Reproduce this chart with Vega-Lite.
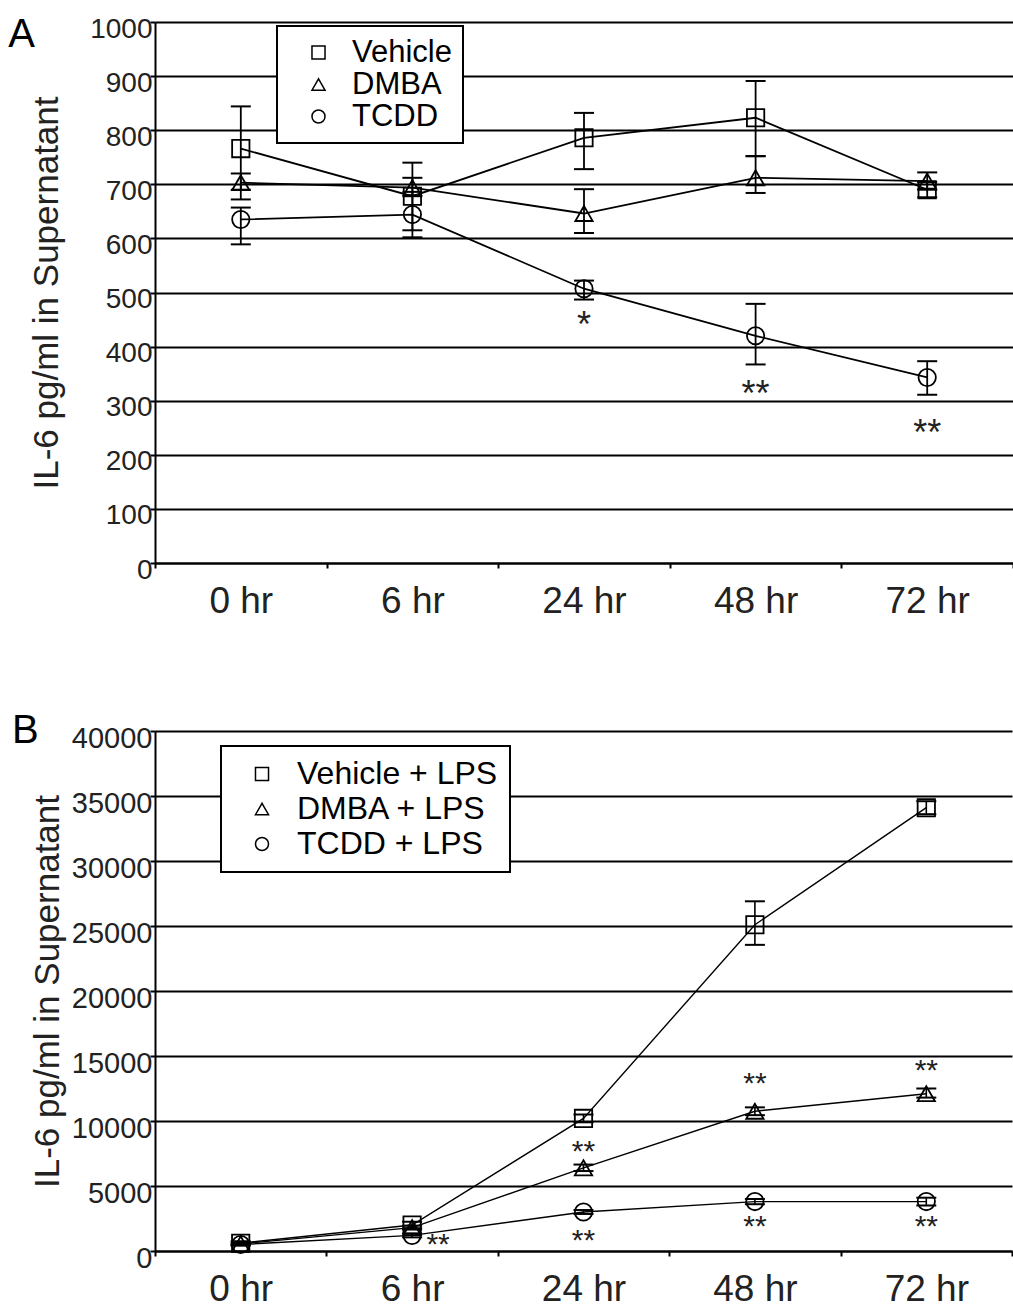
{
  "$schema": "https://vega.github.io/schema/vega-lite/v6.json",
  "background": "white",
  "padding": {"left": 8, "top": 15, "right": 0, "bottom": 0},
  "columns": 1,
  "align": "none",
  "spacing": 92,
  "resolve": {"scale": {"shape": "independent", "y": "independent", "x": "independent"}, "legend": {"shape": "independent"}},
  "datasets": {
    "a": [
      {"t": "0 hr", "s": "Vehicle", "v": 766, "lo": 690, "hi": 844},
      {"t": "6 hr", "s": "Vehicle", "v": 678, "lo": 615, "hi": 740},
      {"t": "24 hr", "s": "Vehicle", "v": 786, "lo": 728, "hi": 832},
      {"t": "48 hr", "s": "Vehicle", "v": 823, "lo": 752, "hi": 891},
      {"t": "72 hr", "s": "Vehicle", "v": 690, "lo": 676, "hi": 704},
      {"t": "0 hr", "s": "DMBA", "v": 703, "lo": 672, "hi": 720},
      {"t": "6 hr", "s": "DMBA", "v": 694, "lo": 678, "hi": 712},
      {"t": "24 hr", "s": "DMBA", "v": 646, "lo": 610, "hi": 691},
      {"t": "48 hr", "s": "DMBA", "v": 712, "lo": 684, "hi": 752},
      {"t": "72 hr", "s": "DMBA", "v": 706, "lo": 690, "hi": 722},
      {"t": "0 hr", "s": "TCDD", "v": 635, "lo": 589, "hi": 657},
      {"t": "6 hr", "s": "TCDD", "v": 644, "lo": 602, "hi": 686},
      {"t": "24 hr", "s": "TCDD", "v": 507, "lo": 487, "hi": 522},
      {"t": "48 hr", "s": "TCDD", "v": 420, "lo": 367, "hi": 479},
      {"t": "72 hr", "s": "TCDD", "v": 343, "lo": 311, "hi": 373}
    ],
    "a_sig": [
      {"t": "24 hr", "y": 454, "mark": "*"},
      {"t": "48 hr", "y": 327, "mark": "**"},
      {"t": "72 hr", "y": 256, "mark": "**"}
    ],
    "b": [
      {"t": "0 hr", "s": "Vehicle + LPS", "v": 600, "lo": 450, "hi": 750},
      {"t": "6 hr", "s": "Vehicle + LPS", "v": 2000, "lo": 1750, "hi": 2250},
      {"t": "24 hr", "s": "Vehicle + LPS", "v": 10200, "lo": 9900, "hi": 10500},
      {"t": "48 hr", "s": "Vehicle + LPS", "v": 25100, "lo": 23550, "hi": 26900},
      {"t": "72 hr", "s": "Vehicle + LPS", "v": 34100, "lo": 33600, "hi": 34600},
      {"t": "0 hr", "s": "DMBA + LPS", "v": 550, "lo": 450, "hi": 650},
      {"t": "6 hr", "s": "DMBA + LPS", "v": 1800, "lo": 1650, "hi": 1950},
      {"t": "24 hr", "s": "DMBA + LPS", "v": 6400, "lo": 6150, "hi": 6650},
      {"t": "48 hr", "s": "DMBA + LPS", "v": 10750, "lo": 10450, "hi": 11050},
      {"t": "72 hr", "s": "DMBA + LPS", "v": 12100, "lo": 11800, "hi": 12500},
      {"t": "0 hr", "s": "TCDD + LPS", "v": 500, "lo": 420, "hi": 580},
      {"t": "6 hr", "s": "TCDD + LPS", "v": 1200, "lo": 1050, "hi": 1350},
      {"t": "24 hr", "s": "TCDD + LPS", "v": 3000, "lo": 2850, "hi": 3150},
      {"t": "48 hr", "s": "TCDD + LPS", "v": 3800, "lo": 3600, "hi": 4000},
      {"t": "72 hr", "s": "TCDD + LPS", "v": 3800, "lo": 3500, "hi": 4100}
    ],
    "b_sig": [
      {"t": "24 hr", "y": 8200, "mark": "**"},
      {"t": "24 hr", "y": 1400, "mark": "**"},
      {"t": "48 hr", "y": 13450, "mark": "**"},
      {"t": "48 hr", "y": 2450, "mark": "**"},
      {"t": "72 hr", "y": 14450, "mark": "**"},
      {"t": "72 hr", "y": 2450, "mark": "**"}
    ],
    "b_sig6": [
      {"t": "6 hr", "y": 1100, "mark": "**"}
    ]
  },
  "concat": [
    {
      "title": {"text": "A", "orient": "left", "anchor": "end", "frame": "group", "angle": 0, "align": "right", "baseline": "alphabetic", "dx": 32, "dy": 25, "offset": 0, "fontSize": 40, "fontWeight": "normal"},
      "width": 858,
      "height": 541,
      "encoding": {
        "x": {
          "field": "t", "type": "ordinal", "sort": ["0 hr", "6 hr", "24 hr", "48 hr", "72 hr"],
          "scale": {"type": "band", "paddingInner": 0, "paddingOuter": 0},
          "axis": {"title": null, "labelAngle": 0, "labelFontSize": 37, "labelPadding": 15, "tickBand": "extent", "tickSize": 5}
        }
      },
      "layer": [
        {
          "data": {"name": "a"},
          "mark": {"type": "line", "color": "black", "strokeWidth": 1.8},
          "encoding": {
            "y": {
              "field": "v", "type": "quantitative",
              "scale": {"domain": [0, 1000], "nice": false},
              "axis": {"title": "IL-6 pg/ml in Supernatant", "titlePadding": 25, "values": [0, 100, 200, 300, 400, 500, 600, 700, 800, 900, 1000], "format": "d", "labelFontSize": 28, "labelOffset": 7, "labelPadding": -2}
            },
            "detail": {"field": "s"}
          }
        },
        {
          "data": {"name": "a"},
          "mark": {"type": "rule", "color": "black", "strokeWidth": 1.8},
          "encoding": {"y": {"field": "lo", "type": "quantitative"}, "y2": {"field": "hi"}}
        },
        {
          "data": {"name": "a"},
          "mark": {"type": "tick", "color": "black", "thickness": 2, "size": 20, "opacity": 1},
          "encoding": {"y": {"field": "lo", "type": "quantitative"}}
        },
        {
          "data": {"name": "a"},
          "mark": {"type": "tick", "color": "black", "thickness": 2, "size": 20, "opacity": 1},
          "encoding": {"y": {"field": "hi", "type": "quantitative"}}
        },
        {
          "data": {"name": "a"},
          "mark": {"type": "point", "filled": false, "color": "black", "strokeWidth": 1.8, "size": 300, "opacity": 1},
          "encoding": {
            "y": {"field": "v", "type": "quantitative"},
            "shape": {
              "field": "s", "type": "nominal",
              "scale": {"domain": ["Vehicle", "DMBA", "TCDD"], "range": ["square", "triangle-up", "circle"]},
              "legend": {"title": null, "orient": "none", "legendX": 122, "legendY": 4, "labelFontSize": 31, "symbolSize": 170, "padding": 11, "symbolOffset": 15, "labelOffset": 18, "rowPadding": 0, "strokeColor": "black", "fillColor": "white", "symbolStrokeColor": "black", "symbolStrokeWidth": 1.5, "labelLimit": 400}
            }
          }
        },
        {
          "data": {"name": "a_sig"},
          "mark": {"type": "text", "fontSize": 36, "baseline": "alphabetic", "dy": 20, "color": "#222"},
          "encoding": {"y": {"field": "y", "type": "quantitative"}, "text": {"field": "mark"}}
        }
      ]
    },
    {
      "title": {"text": "B", "orient": "left", "anchor": "end", "frame": "group", "angle": 0, "align": "right", "baseline": "alphabetic", "dx": 35, "dy": 12, "offset": 0, "fontSize": 40, "fontWeight": "normal"},
      "width": 857,
      "height": 520,
      "encoding": {
        "x": {
          "field": "t", "type": "ordinal", "sort": ["0 hr", "6 hr", "24 hr", "48 hr", "72 hr"],
          "scale": {"type": "band", "paddingInner": 0, "paddingOuter": 0},
          "axis": {"title": null, "labelAngle": 0, "labelFontSize": 37, "labelPadding": 15, "tickBand": "extent", "tickSize": 5}
        }
      },
      "layer": [
        {
          "data": {"name": "b"},
          "mark": {"type": "line", "color": "black", "strokeWidth": 1.4},
          "encoding": {
            "y": {
              "field": "v", "type": "quantitative",
              "scale": {"domain": [0, 40000], "nice": false},
              "axis": {"title": "IL-6 pg/ml in Supernatant", "titlePadding": 6, "values": [0, 5000, 10000, 15000, 20000, 25000, 30000, 35000, 40000], "format": "d", "labelFontSize": 29, "labelOffset": 7, "labelPadding": -2}
            },
            "detail": {"field": "s"}
          }
        },
        {
          "data": {"name": "b"},
          "mark": {"type": "rule", "color": "black", "strokeWidth": 1.6},
          "encoding": {"y": {"field": "lo", "type": "quantitative"}, "y2": {"field": "hi"}}
        },
        {
          "data": {"name": "b"},
          "mark": {"type": "tick", "color": "black", "thickness": 2, "size": 20, "opacity": 1},
          "encoding": {"y": {"field": "lo", "type": "quantitative"}}
        },
        {
          "data": {"name": "b"},
          "mark": {"type": "tick", "color": "black", "thickness": 2, "size": 20, "opacity": 1},
          "encoding": {"y": {"field": "hi", "type": "quantitative"}}
        },
        {
          "data": {"name": "b"},
          "mark": {"type": "point", "filled": false, "color": "black", "strokeWidth": 1.8, "size": 300, "opacity": 1},
          "encoding": {
            "y": {"field": "v", "type": "quantitative"},
            "shape": {
              "field": "s", "type": "nominal",
              "scale": {"domain": ["Vehicle + LPS", "DMBA + LPS", "TCDD + LPS"], "range": ["square", "triangle-up", "circle"]},
              "legend": {"title": null, "orient": "none", "legendX": 66, "legendY": 15, "labelFontSize": 32, "symbolSize": 170, "padding": 12, "symbolOffset": 13, "labelOffset": 19, "rowPadding": 3, "strokeColor": "black", "fillColor": "white", "symbolStrokeColor": "black", "symbolStrokeWidth": 1.5, "labelLimit": 400}
            }
          }
        },
        {
          "data": {"name": "b_sig"},
          "mark": {"type": "text", "fontSize": 30, "baseline": "alphabetic", "dy": 17, "color": "#222"},
          "encoding": {"y": {"field": "y", "type": "quantitative"}, "text": {"field": "mark"}}
        },
        {
          "data": {"name": "b_sig6"},
          "mark": {"type": "text", "fontSize": 30, "baseline": "alphabetic", "dy": 17, "dx": 26, "color": "#222"},
          "encoding": {"y": {"field": "y", "type": "quantitative"}, "text": {"field": "mark"}}
        }
      ]
    }
  ],
  "config": {
    "view": {"stroke": null},
    "font": "Liberation Sans",
    "axis": {
      "domainColor": "black", "domainWidth": 2, "tickColor": "black", "tickWidth": 2,
      "labelColor": "#222", "titleColor": "#222", "titleFontSize": 35, "titleFontWeight": "normal",
      "gridColor": "black", "gridWidth": 2, "gridOpacity": 1
    },
    "axisX": {"grid": false},
    "axisY": {"grid": true, "tickSize": 5},
    "legend": {"labelColor": "black", "strokeWidth": 2},
    "title": {"color": "black"}
  }
}
